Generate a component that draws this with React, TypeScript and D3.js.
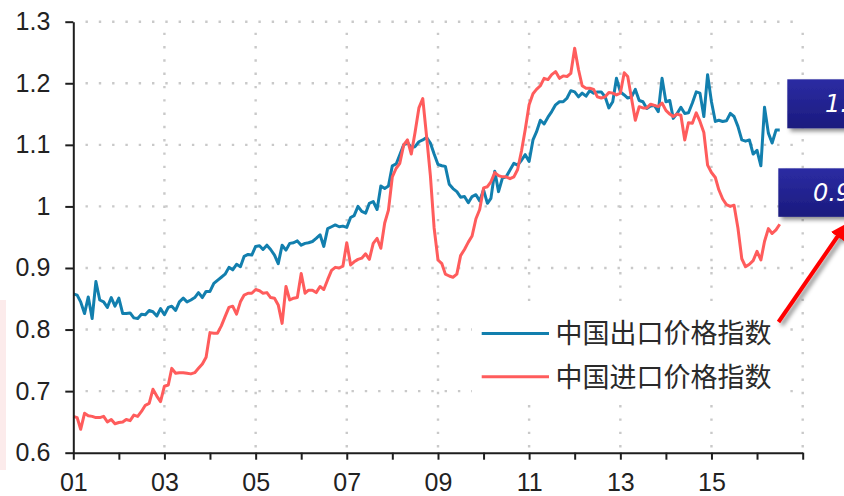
import { useEffect, useRef } from "react";
import * as d3 from "d3";

// monthly series, Jan 2001 onward
const startMonth = new Date(2001, 0, 1);

const exportIndex = [
  0.858, 0.856, 0.845, 0.826, 0.853, 0.818, 0.878, 0.848, 0.845, 0.836, 0.852, 0.838,
  0.851, 0.826, 0.826, 0.827, 0.819, 0.818, 0.825, 0.824, 0.831, 0.829, 0.822, 0.834,
  0.824, 0.836, 0.838, 0.831, 0.845, 0.851, 0.845, 0.848, 0.852, 0.860, 0.852, 0.862,
  0.862, 0.875, 0.880, 0.885, 0.890, 0.901, 0.897, 0.906, 0.902, 0.919, 0.922, 0.921,
  0.935, 0.936, 0.930, 0.937, 0.930, 0.921, 0.907, 0.937, 0.929, 0.940, 0.941, 0.944,
  0.937, 0.940, 0.941, 0.943, 0.948, 0.954, 0.935, 0.964, 0.967, 0.970, 0.967, 0.968,
  0.966, 0.982, 0.985, 1.000, 0.992, 0.989, 1.005, 1.008, 0.995, 1.033, 1.029, 1.033,
  1.066, 1.069, 1.084, 1.100, 1.104, 1.096, 1.097, 1.105, 1.108, 1.112, 1.103, 1.085,
  1.068, 1.066, 1.065, 1.036, 1.029, 1.024, 1.015, 1.016, 1.006, 1.016, 1.019, 1.009,
  1.027, 1.005, 1.013, 1.057, 1.024, 1.046, 1.048, 1.059, 1.070, 1.067, 1.075, 1.084,
  1.073, 1.108, 1.121, 1.140, 1.134, 1.145, 1.154, 1.165, 1.170, 1.170, 1.176, 1.188,
  1.186, 1.178, 1.184, 1.179, 1.188, 1.184, 1.186, 1.186, 1.178, 1.160, 1.170, 1.208,
  1.186, 1.181, 1.176, 1.178, 1.190, 1.172, 1.170, 1.159, 1.163, 1.164, 1.154, 1.208,
  1.170, 1.172, 1.143, 1.151, 1.161, 1.151, 1.152, 1.168, 1.186, 1.184, 1.146, 1.214,
  1.170, 1.138, 1.140, 1.138, 1.139, 1.151, 1.146, 1.130, 1.108, 1.106, 1.108, 1.085,
  1.091, 1.066, 1.161, 1.119, 1.103, 1.124, 1.124,
];

const importIndex = [
  0.659, 0.657, 0.638, 0.664, 0.660, 0.659, 0.657, 0.657, 0.659, 0.650, 0.654, 0.647,
  0.649, 0.650, 0.654, 0.652, 0.661, 0.659, 0.667, 0.677, 0.680, 0.703, 0.692, 0.683,
  0.708, 0.710, 0.737, 0.729, 0.730, 0.730, 0.729, 0.728, 0.730, 0.737, 0.744, 0.755,
  0.795, 0.794, 0.794, 0.806, 0.821, 0.836, 0.838, 0.825, 0.845, 0.856, 0.859, 0.859,
  0.865, 0.863, 0.859, 0.860, 0.852, 0.851, 0.840, 0.810, 0.870, 0.848, 0.851, 0.852,
  0.891, 0.859, 0.864, 0.864, 0.860, 0.870, 0.865, 0.881, 0.896, 0.901, 0.900, 0.903,
  0.941, 0.905, 0.910, 0.914, 0.916, 0.923, 0.914, 0.940, 0.948, 0.932, 0.973, 0.994,
  1.048, 1.062, 1.070, 1.100, 1.108, 1.085, 1.120, 1.160, 1.175, 1.115, 1.050, 0.965,
  0.913, 0.907, 0.890, 0.887, 0.885, 0.890, 0.920, 0.930, 0.942, 0.952, 0.980, 0.995,
  1.030, 1.032, 1.040, 1.055, 1.050, 1.048, 1.048, 1.045, 1.048, 1.060, 1.090, 1.125,
  1.165, 1.183, 1.190, 1.196, 1.208, 1.206, 1.214, 1.219, 1.208, 1.212, 1.211, 1.216,
  1.257, 1.222, 1.196, 1.192, 1.192, 1.190, 1.178, 1.176, 1.178, 1.185, 1.184, 1.181,
  1.184, 1.217, 1.211, 1.175, 1.140, 1.162, 1.160, 1.160, 1.166, 1.164, 1.162, 1.168,
  1.156, 1.150, 1.146, 1.150, 1.148, 1.108, 1.136, 1.135, 1.152, 1.138, 1.120, 1.067,
  1.055, 1.047, 1.027, 1.012, 1.003, 1.000, 1.002, 0.965, 0.915, 0.902, 0.906, 0.912,
  0.927, 0.913, 0.943, 0.964, 0.956, 0.962, 0.971,
];

const yTicks = [0.6, 0.7, 0.8, 0.9, 1.0, 1.1, 1.2, 1.3];
const labelYears = [2001, 2003, 2005, 2007, 2009, 2011, 2013, 2015];
const gridYears = [2003, 2005, 2007, 2009, 2011, 2013, 2015, 2017];
const seriesNames = ["中国出口价格指数", "中国进口价格指数"];
const seriesColors = ["#127fae", "#ff5c5c"];
const calloutTexts = ["1.12", "0.97"];

export default function App() {
  const ref = useRef<SVGSVGElement>(null);

  useEffect(() => {
    const width = 844;
    const height = 496;
    const marginLeft = 73.3;
    const marginRight = 41.3;
    const marginTop = 21.7;
    const marginBottom = 43.3;

    const svg = d3.select(ref.current);
    svg.selectAll("*").remove();

    const months = exportIndex.map((_, i) => d3.timeMonth.offset(startMonth, i));

    const x = d3.scaleTime()
      .domain([new Date(2001, 0, 1), new Date(2017, 0, 1)])
      .range([marginLeft, width - marginRight]);

    const y = d3.scaleLinear()
      .domain([0.6, 1.3])
      .range([height - marginBottom, marginTop]);

    const defs = svg.append("defs");
    const grad = defs.append("linearGradient")
      .attr("id", "boxGrad").attr("x1", 0).attr("y1", 0).attr("x2", 0).attr("y2", 1);
    grad.append("stop").attr("offset", "0%").attr("stop-color", "#2c2ca3");
    grad.append("stop").attr("offset", "100%").attr("stop-color", "#1a1a7e");
    const shadow = defs.append("filter").attr("id", "shadow")
      .attr("x", "-20%").attr("y", "-30%").attr("width", "150%").attr("height", "170%");
    shadow.append("feDropShadow")
      .attr("dx", 3).attr("dy", 3).attr("stdDeviation", 2)
      .attr("flood-color", "#000").attr("flood-opacity", 0.45);
    defs.append("marker")
      .attr("id", "arrowHead")
      .attr("viewBox", "0 0 10 10")
      .attr("refX", 5).attr("refY", 5)
      .attr("markerWidth", 4).attr("markerHeight", 4)
      .attr("orient", "auto")
      .append("path").attr("d", "M0,0 L10,5 L0,10 z").attr("fill", "#ff0000");

    // faint pink smear on left edge
    svg.append("rect")
      .attr("x", 0).attr("y", 300).attr("width", 6).attr("height", 170)
      .attr("fill", "#fcebeb");

    // dotted grid
    const grid = svg.append("g")
      .attr("stroke", "#c9c9c9")
      .attr("stroke-width", 2.4)
      .attr("stroke-dasharray", "2.4 10.9");
    grid.selectAll("line.h")
      .data(yTicks.filter(d => d > 0.6))
      .join("line")
        .attr("class", "h")
        .attr("x1", marginLeft + 12.2)
        .attr("x2", width - marginRight)
        .attr("y1", d => y(d))
        .attr("y2", d => y(d));
    grid.selectAll("line.v")
      .data(gridYears)
      .join("line")
        .attr("class", "v")
        .attr("x1", d => x(new Date(d, 0, 1)))
        .attr("x2", d => x(new Date(d, 0, 1)))
        .attr("y1", marginTop + 11)
        .attr("y2", height - marginBottom);

    const line = d3.line<number>()
      .x((_, i) => x(months[i]))
      .y(d => y(d));

    [exportIndex, importIndex].forEach((series, k) => {
      svg.append("path")
        .datum(series)
        .attr("fill", "none")
        .attr("stroke", seriesColors[k])
        .attr("stroke-width", 3)
        .attr("stroke-linejoin", "round")
        .attr("d", line);
    });

    // axes
    svg.append("g")
      .attr("transform", `translate(${marginLeft},0)`)
      .call(d3.axisLeft(y).tickValues(yTicks).tickSize(8).tickSizeOuter(0).tickPadding(15)
        .tickFormat(d => d3.format("~g")(+d)))
      .call(g => g.selectAll("path, line").attr("stroke", "#1e1e1e").attr("stroke-width", 2))
      .call(g => g.selectAll("text")
        .attr("fill", "#222")
        .style("font-family", "'Liberation Sans', Arial, sans-serif")
        .style("font-size", "25px"));

    svg.append("g")
      .attr("transform", `translate(0,${height - marginBottom})`)
      .call(d3.axisBottom(x).ticks(d3.timeYear.every(1)).tickSize(7).tickSizeOuter(0).tickPadding(14)
        .tickFormat(d => {
          const yr = (d as Date).getFullYear();
          return labelYears.includes(yr) ? d3.timeFormat("%y")(d as Date) : "";
        }))
      .call(g => g.selectAll("path, line").attr("stroke", "#1e1e1e").attr("stroke-width", 2))
      .call(g => g.selectAll("text")
        .attr("fill", "#222")
        .style("font-family", "'Liberation Sans', Arial, sans-serif")
        .style("font-size", "25px"));

    // legend
    const legend = svg.append("g");
    legend.append("rect")
      .attr("x", 472).attr("y", 311).attr("width", 308).attr("height", 84)
      .attr("fill", "#fff");
    seriesNames.forEach((name, k) => {
      const ly = 333.5 + k * 43.3;
      legend.append("line")
        .attr("x1", 481.7).attr("x2", 549)
        .attr("y1", ly).attr("y2", ly)
        .attr("stroke", seriesColors[k])
        .attr("stroke-width", 3);
      legend.append("text")
        .attr("x", 555.5).attr("y", ly)
        .attr("dy", "0.36em")
        .attr("fill", "#2a2a2a")
        .style("font-family", "'Noto Sans CJK SC', sans-serif")
        .style("font-size", "27px")
        .text(name);
    });

    // callout boxes (cut off by the right edge, as in the source)
    const callouts = [
      { x: 787.3, y: 79.3, h: 49, tx: 825 },
      { x: 778.3, y: 168.3, h: 48.5, tx: 813 },
    ];
    callouts.forEach((c, k) => {
      svg.append("rect")
        .attr("x", c.x).attr("y", c.y).attr("width", 120).attr("height", c.h)
        .attr("fill", "url(#boxGrad)")
        .attr("filter", "url(#shadow)");
      svg.append("text")
        .attr("x", c.tx).attr("y", c.y + c.h / 2)
        .attr("dy", "0.36em")
        .attr("fill", "#fff")
        .style("font-family", "'DejaVu Sans', sans-serif")
        .style("font-style", "italic")
        .style("font-size", "24px")
        .text(calloutTexts[k]);
    });

    // red arrow from legend toward the import callout
    svg.append("line")
      .attr("x1", 778.5).attr("y1", 322)
      .attr("x2", 842).attr("y2", 230)
      .attr("stroke", "#ff0000")
      .attr("stroke-width", 4)
      .attr("filter", "url(#shadow)")
      .attr("marker-end", "url(#arrowHead)");
  }, []);

  return (
    <svg
      ref={ref}
      width={844}
      height={496}
      style={{ position: "absolute", left: 0, top: 0, background: "#fff" }}
    />
  );
}
